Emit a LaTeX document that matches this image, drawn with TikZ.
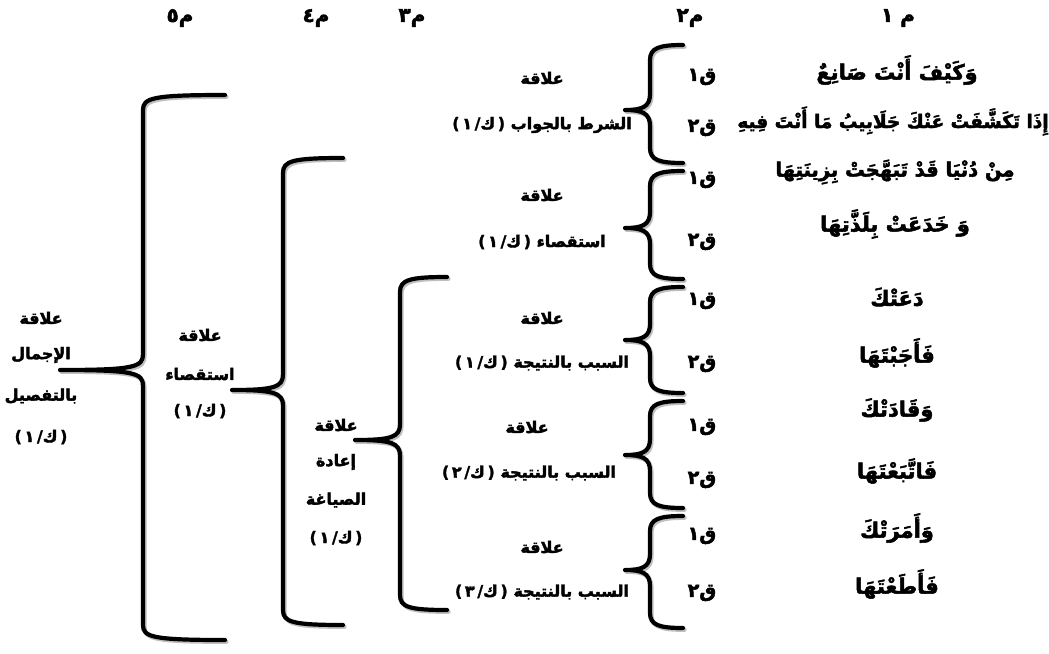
\documentclass[tikz,border=0pt]{standalone}
\usepackage{fontspec}
\TeXXeTstate=1
\newfontfamily\ar[Script=Arabic,FakeBold=2.4]{DejaVu Sans Bold}
\newfontfamily\lat[FakeBold=1.5]{DejaVu Sans Bold}
\newcommand{\kref}[1]{\hbox{\lat(}\,\hbox{#1}\,\hbox{\lat/}\hbox{ك}\,\hbox{\lat)}}
\newcommand{\qlab}[1]{\hbox{#1}\hbox{ق}}
\newcommand{\bracedraw}[7]{%
  \draw[#1] (#7,#3) .. controls ({#2+9},{#3}) and ({#2},{#3+3}) .. ({#2},{#3+15})
    -- ({#2},{#5-16}) .. controls ({#2},{#5-3}) and ({#2-8},{#5}) .. (#6,#5)
    .. controls ({#2-8},{#5}) and ({#2},{#5+3}) .. ({#2},{#5+16})
    -- ({#2},{#4-15}) .. controls ({#2},{#4-3}) and ({#2+9},{#4}) .. (#7,#4);}
% v, top, bottom, tip y, tip x, arm x
\newcommand{\mybrace}[6]{%
  \bracedraw{shd}{#1}{#2}{#3}{#4}{#5}{#6}%
  \bracedraw{brc}{#1}{#2}{#3}{#4}{#5}{#6}}
\tikzset{
  lbl/.style={font=\ar\fontsize{16}{18}\selectfont, inner sep=0pt, text=black},
  mainline/.style={font=\ar\fontsize{21}{24}\selectfont, inner sep=0pt},
  hdr/.style={font=\ar\fontsize{20}{22}\selectfont, inner sep=0pt},
  qstyle/.style={font=\ar\fontsize{19}{21}\selectfont, inner sep=0pt},
  brc/.style={line width=4.2pt, line cap=round, line join=round, draw=black},
  shd/.style={line width=4.2pt, line cap=round, line join=round, draw=black!25, xshift=1.5pt, yshift=-1.8pt},
}
\begin{document}
\begin{tikzpicture}[x=1pt,y=-1pt]
\useasboundingbox[fill=white] (0,0) rectangle (1049,653);
% headers
\node[hdr] (h5) at (180,18) {\hbox{٥}\hbox{م}};
\node[hdr] (h4) at (316,18) {\hbox{٤}\hbox{م}};
\node[hdr] (h3) at (412,18) {\hbox{٣}\hbox{م}};
\node[hdr] (h2) at (690,18) {\hbox{٢}\hbox{م}};
\node[hdr] (h1) at (898,18) {\hbox{١}\ \hbox{م}};
% column 1 lines
\node[mainline] (l1) at (897,70) {\beginR وَكَيْفَ أَنْتَ صَانِعٌ\endR};
\node[mainline, font=\ar\fontsize{18.5}{22}\selectfont] (l2) at (893,121) {\beginR إِذَا تَكَشَّفَتْ عَنْكَ جَلَابِيبُ مَا أَنْتَ فِيهِ\endR};
\node[mainline, font=\ar\fontsize{19.5}{22}\selectfont] (l3) at (895,172) {\beginR مِنْ دُنْيَا قَدْ تَبَهَّجَتْ بِزِينَتِهَا\endR};
\node[mainline] (l4) at (895,224) {\beginR وَ خَدَعَتْ بِلَذَّتِهَا\endR};
\node[mainline] (l5) at (897,297) {\beginR دَعَتْكَ\endR};
\node[mainline] (l6) at (897,353) {\beginR فَأَجَبْتَهَا\endR};
\node[mainline] (l7) at (897,410) {\beginR وَقَادَتْكَ\endR};
\node[mainline] (l8) at (897,471) {\beginR فَاتَّبَعْتَهَا\endR};
\node[mainline] (l9) at (897,528) {\beginR وَأَمَرَتْكَ\endR};
\node[mainline] (l10) at (897,584) {\beginR فَأَطَعْتَهَا\endR};
% q labels
\node[qstyle] (q1) at (702,77) {\qlab{١}};
\node[qstyle] (q2) at (702,128) {\qlab{٢}};
\node[qstyle] (q3) at (702,180) {\qlab{١}};
\node[qstyle] (q4) at (702,242) {\qlab{٢}};
\node[qstyle] (q5) at (702,301) {\qlab{١}};
\node[qstyle] (q6) at (702,364) {\qlab{٢}};
\node[qstyle] (q7) at (702,427) {\qlab{١}};
\node[qstyle] (q8) at (702,480) {\qlab{٢}};
\node[qstyle] (q9) at (702,536) {\qlab{١}};
\node[qstyle] (q10) at (702,593) {\qlab{٢}};
% m2 braces
\mybrace{650}{45}{163}{110}{625}{683}
\mybrace{650}{171}{279}{228}{625}{683}
\mybrace{650}{287}{393}{340}{625}{683}
\mybrace{650}{401}{508}{455}{625}{683}
\mybrace{650}{516}{628}{570}{625}{683}
% m3 labels
\node[lbl] (r1a) at (542,78) {\beginR علاقة\endR};
\node[lbl] (r1b) at (542,125) {\hbox{\kref{١}}\ \hbox{\beginR الشرط بالجواب\endR}};
\node[lbl] (r2a) at (542,195) {\beginR علاقة\endR};
\node[lbl] (r2b) at (542,242) {\hbox{\kref{١}}\ \hbox{\beginR استقصاء\endR}};
\node[lbl] (r3a) at (542,318) {\beginR علاقة\endR};
\node[lbl] (r3b) at (542,363) {\hbox{\kref{١}}\ \hbox{\beginR السبب بالنتيجة\endR}};
\node[lbl] (r4a) at (527,427) {\beginR علاقة\endR};
\node[lbl] (r4b) at (529,473) {\hbox{\kref{٢}}\ \hbox{\beginR السبب بالنتيجة\endR}};
\node[lbl] (r5a) at (542,547) {\beginR علاقة\endR};
\node[lbl] (r5b) at (542,592) {\hbox{\kref{٣}}\ \hbox{\beginR السبب بالنتيجة\endR}};
% brace A (m3)
\mybrace{400}{277}{610}{440}{355}{447}
\node[lbl] (a1) at (336,425) {\beginR علاقة\endR};
\node[lbl] (a2) at (336,462) {\beginR إعادة\endR};
\node[lbl] (a3) at (336,500) {\beginR الصياغة\endR};
\node[lbl] (a4) at (336,538) {\kref{١}};
% brace B (m4)
\mybrace{283}{158}{625}{390}{232}{343}
\node[lbl] (b1) at (200,335) {\beginR علاقة\endR};
\node[lbl] (b2) at (200,374) {\beginR استقصاء\endR};
\node[lbl] (b3) at (200,411) {\kref{١}};
% brace C (m5)
\mybrace{143}{95}{640}{370}{60}{225}
\node[lbl] (c1) at (41,318) {\beginR علاقة\endR};
\node[lbl] (c2) at (41,355) {\beginR الإجمال\endR};
\node[lbl] (c3) at (41,396) {\beginR بالتفصيل\endR};
\node[lbl] (c4) at (41,437) {\kref{١}};
\end{tikzpicture}
\end{document}
